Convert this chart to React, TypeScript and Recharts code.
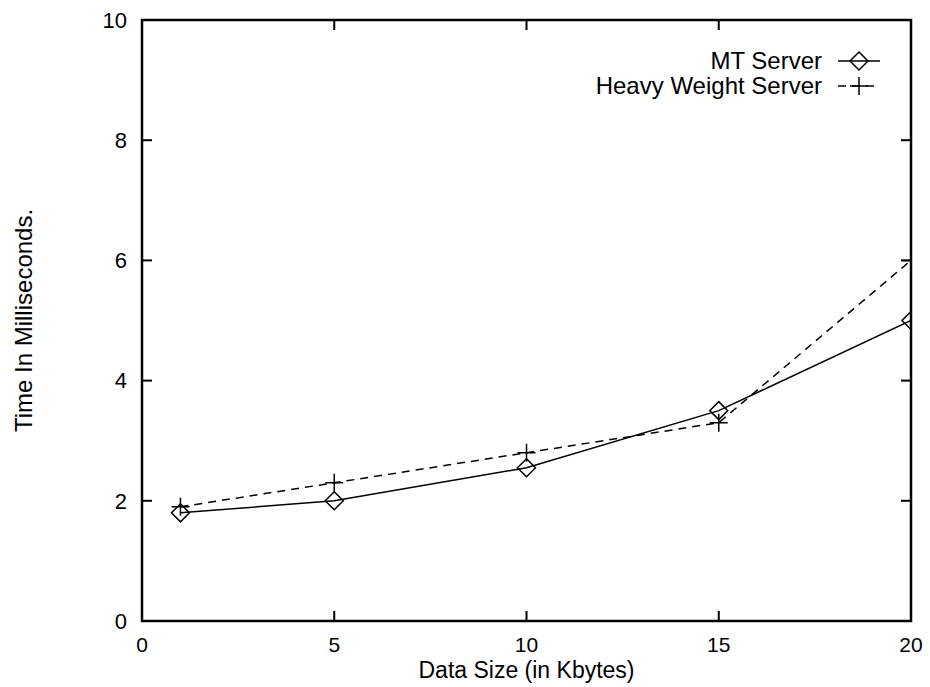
import React from 'react';
import { LineChart, Line, XAxis, YAxis, Legend, Label, ReferenceArea } from 'recharts';

// data sizes in Kbytes, times in ms
const sizes = [1, 5, 10, 15, 20];
const mtServer = [1.8, 2.0, 2.55, 3.5, 5.0];
const heavyServer = [1.9, 2.3, 2.8, 3.3, 6.0];
const xTicks = [0, 5, 10, 15, 20];
const yTicks = [0, 2, 4, 6, 8, 10];

const data = sizes.map((s, i) => ({ size: s, mt: mtServer[i], heavy: heavyServer[i] }));

const FONT = '"Liberation Sans", Arial, Helvetica, sans-serif';
const W = 930;
const H = 687;
const MARGIN = { top: 20, right: 19, left: 0, bottom: 0 };
const Y_AXIS_W = 142;
const X_AXIS_H = 66;
const PLOT_TOP = MARGIN.top;
const PLOT_RIGHT = W - MARGIN.right;
const TICK_LEN = 10;
const X_TICK_GAP = 16;
const Y_TICK_GAP = 15;

function diamondPath(cx: number, cy: number, r: number) {
  return `M${cx},${cy - r}L${cx + r},${cy}L${cx},${cy + r}L${cx - r},${cy}Z`;
}

function plusPath(cx: number, cy: number, r: number) {
  return `M${cx - r},${cy}L${cx + r},${cy}M${cx},${cy - r}L${cx},${cy + r}`;
}

const DiamondDot = (props: any) => {
  const { cx, cy, index } = props;
  if (cx == null || cy == null) return <g key={`d${index}`} />;
  return <path key={`d${index}`} d={diamondPath(cx, cy, 9)} fill="none" stroke="#000" strokeWidth={1.5} />;
};

const PlusDot = (props: any) => {
  const { cx, cy, index } = props;
  if (cx == null || cy == null) return <g key={`p${index}`} />;
  return <path key={`p${index}`} d={plusPath(cx, cy, 9)} fill="none" stroke="#000" strokeWidth={1.5} />;
};

// bottom axis tick: label plus inward ticks on bottom and top edges
const XTick = (props: any) => {
  const { x, y, payload } = props;
  const axisY = y - X_TICK_GAP;
  return (
    <g>
      <line x1={x} y1={axisY} x2={x} y2={axisY - TICK_LEN} stroke="#000" strokeWidth={2} />
      <line x1={x} y1={PLOT_TOP} x2={x} y2={PLOT_TOP + TICK_LEN} stroke="#000" strokeWidth={2} />
      <text x={x} y={y} dy="0.71em" textAnchor="middle" fill="#000" fontSize={21} fontFamily={FONT}>
        {payload.value}
      </text>
    </g>
  );
};

// left axis tick: label plus inward ticks on left and right edges
const YTick = (props: any) => {
  const { x, y, payload } = props;
  const axisX = x + Y_TICK_GAP;
  return (
    <g>
      <line x1={axisX} y1={y} x2={axisX + TICK_LEN} y2={y} stroke="#000" strokeWidth={2} />
      <line x1={PLOT_RIGHT} y1={y} x2={PLOT_RIGHT - TICK_LEN} y2={y} stroke="#000" strokeWidth={2} />
      <text x={x} y={y} dy="0.355em" textAnchor="end" fill="#000" fontSize={22} fontFamily={FONT}>
        {payload.value}
      </text>
    </g>
  );
};

const legendRows = [
  { name: 'MT Server', dashed: false, marker: 'diamond' },
  { name: 'Heavy Weight Server', dashed: true, marker: 'plus' },
];

function ChartLegend() {
  return (
    <div style={{ fontFamily: FONT, fontSize: 24, color: '#000' }}>
      {legendRows.map((r) => (
        <div key={r.name} style={{ display: 'flex', justifyContent: 'flex-end', alignItems: 'center', height: 25 }}>
          <span style={{ lineHeight: '25px' }}>{r.name}</span>
          <svg width={42} height={24} style={{ marginLeft: 16 }}>
            <line x1={0} y1={12} x2={42} y2={12} stroke="#000" strokeWidth={1.5} strokeDasharray={r.dashed ? '8 6' : undefined} />
            <path d={r.marker === 'diamond' ? diamondPath(21, 12, 9) : plusPath(21, 12, 9)} fill="none" stroke="#000" strokeWidth={1.5} />
          </svg>
        </div>
      ))}
    </div>
  );
}

export default function App() {
  return (
    <div style={{ position: 'absolute', left: 0, top: 0, width: W, height: H, background: '#fff' }}>
      <LineChart width={W} height={H} data={data} margin={MARGIN}>
        <XAxis
          dataKey="size"
          type="number"
          domain={[0, 20]}
          ticks={xTicks}
          allowDataOverflow
          height={X_AXIS_H}
          axisLine={false}
          tickLine={false}
          tickSize={0}
          tickMargin={X_TICK_GAP}
          tick={XTick}
        >
          <Label value="Data Size (in Kbytes)" position="insideBottom" offset={9} style={{ fill: '#000', fontSize: 23, fontFamily: FONT }} />
        </XAxis>
        <YAxis
          type="number"
          domain={[0, 10]}
          ticks={yTicks}
          allowDataOverflow
          width={Y_AXIS_W}
          axisLine={false}
          tickLine={false}
          tickSize={0}
          tickMargin={Y_TICK_GAP}
          tick={YTick}
        >
          <Label
            value="Time In Milliseconds."
            angle={-90}
            position="insideLeft"
            offset={23}
            style={{ fill: '#000', fontSize: 24, fontFamily: FONT, textAnchor: 'middle' }}
          />
        </YAxis>
        <ReferenceArea x1={0} x2={20} y1={0} y2={10} fill="none" fillOpacity={0} stroke="#000" strokeWidth={2.5} />
        <Legend
          layout="horizontal"
          align="center"
          verticalAlign="middle"
          content={() => <ChartLegend />}
          wrapperStyle={{ position: 'absolute', top: 48, left: 480, width: 400, height: 50 }}
        />
        <Line dataKey="mt" name="MT Server" stroke="#000" strokeWidth={1.5} dot={DiamondDot} activeDot={false} isAnimationActive={false} />
        <Line dataKey="heavy" name="Heavy Weight Server" stroke="#000" strokeWidth={1.5} strokeDasharray="8 6" dot={PlusDot} activeDot={false} isAnimationActive={false} />
      </LineChart>
    </div>
  );
}
